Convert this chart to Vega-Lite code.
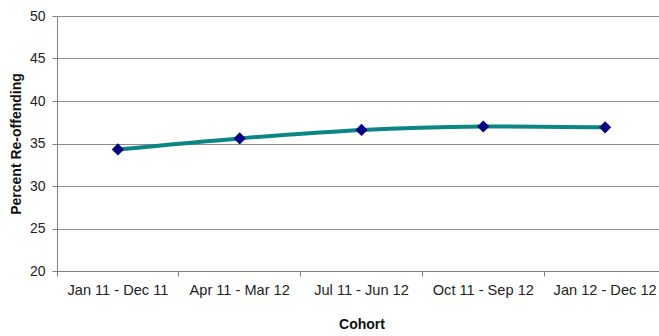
{
  "$schema": "https://vega.github.io/schema/vega-lite/v6.json",
  "width": 609,
  "height": 255,
  "autosize": {"type": "none"},
  "padding": {"left": 57, "top": 16, "right": -7, "bottom": 65},
  "background": "white",
  "config": {
    "view": {"stroke": null},
    "font": "Liberation Sans",
    "axis": {"labelFont": "Liberation Sans", "titleFont": "Liberation Sans"}
  },
  "data": {
    "values": [
      {"cohort": "Jan 11 - Dec 11", "pct": 34.3},
      {"cohort": "Apr 11 - Mar 12", "pct": 35.6},
      {"cohort": "Jul 11 - Jun 12", "pct": 36.6},
      {"cohort": "Oct 11 - Sep 12", "pct": 37.0},
      {"cohort": "Jan 12 - Dec 12", "pct": 36.9}
    ]
  },
  "encoding": {
    "x": {
      "field": "cohort",
      "type": "nominal",
      "sort": null,
      "scale": {"type": "band", "paddingInner": 0, "paddingOuter": 0},
      "axis": {
        "title": "Cohort",
        "titleFontSize": 14,
        "titleFontWeight": "bold",
        "titleColor": "#111111",
        "titlePadding": 21,
        "labelAngle": 0,
        "labelFontSize": 14.6,
        "labelColor": "#222222",
        "labelPadding": 6,
        "bandPosition": 0,
        "tickSize": 5,
        "tickColor": "#808080",
        "domainColor": "#808080",
        "grid": false
      }
    },
    "y": {
      "field": "pct",
      "type": "quantitative",
      "scale": {"domain": [20, 50], "nice": false, "zero": false},
      "axis": {
        "title": "Percent Re-offending",
        "titleFontSize": 14,
        "titleFontWeight": "bold",
        "titleColor": "#111111",
        "titlePadding": 6,
        "values": [20, 25, 30, 35, 40, 45, 50],
        "labelFontSize": 14,
        "labelColor": "#222222",
        "labelPadding": 7,
        "tickSize": 5,
        "tickColor": "#808080",
        "domainColor": "#808080",
        "grid": true,
        "gridColor": "#8c8c8c",
        "gridWidth": 1
      }
    }
  },
  "layer": [
    {
      "mark": {"type": "line", "interpolate": "catmull-rom", "color": "#0b8585", "strokeWidth": 4}
    },
    {
      "mark": {"type": "point", "shape": "diamond", "filled": true, "opacity": 1, "color": "#000080", "size": 150}
    }
  ]
}
